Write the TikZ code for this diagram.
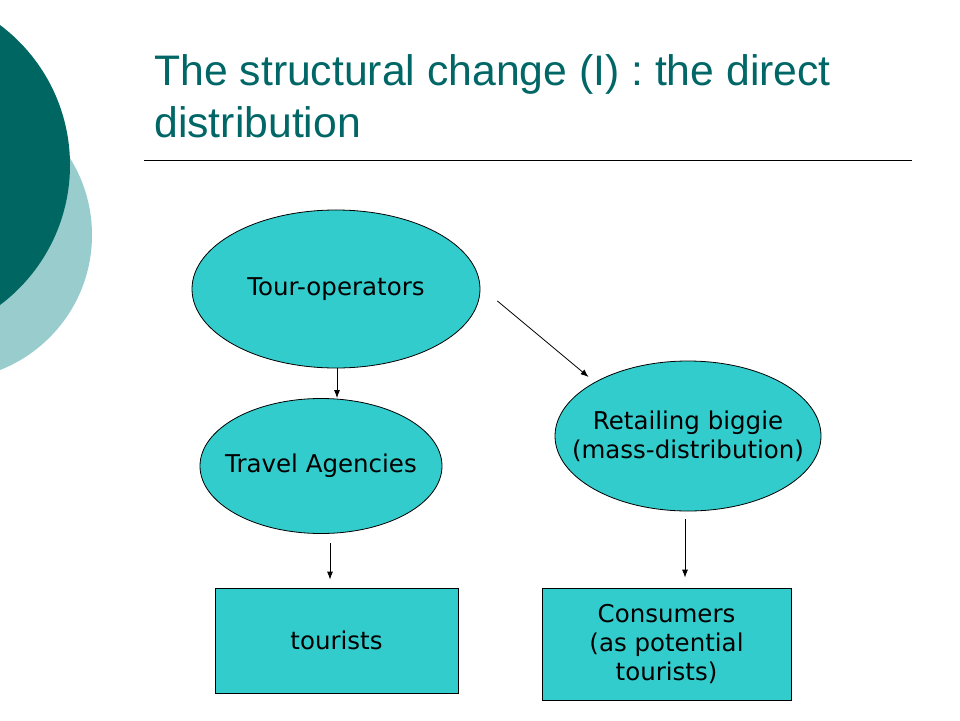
\documentclass[tikz,border=0pt]{standalone}
\usepackage{fontspec}
\setmainfont{DejaVu Sans}
\newfontfamily\titlefont{Liberation Sans}
\usetikzlibrary{shapes.geometric,arrows.meta,positioning}
\definecolor{darkteal}{RGB}{0,102,98}
\definecolor{lightteal}{RGB}{153,204,204}
\definecolor{titleteal}{RGB}{0,102,102}
\definecolor{turq}{RGB}{51,204,204}

\begin{document}
\begin{tikzpicture}[x=1pt, y=-1pt, line width=0.8pt,
	oval/.style={ellipse, draw, fill=turq, inner sep=-25pt, font=\fontsize{24.5}{29}\selectfont, align=center},
	box/.style={rectangle, draw, fill=turq, inner sep=0pt, font=\fontsize{24.5}{29}\selectfont, align=center},
	title/.style={anchor=base west, inner sep=0pt, text=titleteal, font=\titlefont\fontsize{42.7}{52}\selectfont},
	arr/.style={-{Latex[length=8pt,width=6pt]}}]
\useasboundingbox (0,0) rectangle (960,720);
% background
\fill[lightteal] (-53,235) circle (145);
\fill[darkteal] (-105,165) circle (175);
\node[title] (t1) at (154,85) {The structural change (I) : the direct};
\node[title] (t2) at (154,137) {distribution};
\draw (144,160) -- (912,160);
% diagram
\node[oval, minimum width=288, minimum height=158] (tour) at (336,289) {Tour-operators};
\node[oval, minimum width=242, minimum height=135] (travel) at (321,466) {Travel Agencies};
\node[oval, minimum width=266, minimum height=150] (retail) at (688,436) {Retailing biggie\\(mass-distribution)};
\node[box, minimum width=243, minimum height=105] (tourists) at (336.5,640.5) {tourists};
\node[box, minimum width=249, minimum height=112] (consumers) at (666.5,644) {Consumers\\(as potential\\tourists)};
\draw[arr] ([xshift=1pt]tour.south) -- ([xshift=1pt]tour.south |- travel.north);
\draw[arr] ([shift={(17,12)}]tour.east) -- ([shift={(34,-59)}]retail.west);
\draw[arr] ([shift={(9,9)}]travel.south) -- ([shift={(9,-8)}]travel.south |- tourists.north);
\draw[arr] ([shift={(-3,8)}]retail.south) -- ([shift={(-3,-10)}]retail.south |- consumers.north);
\end{tikzpicture}
\end{document}
